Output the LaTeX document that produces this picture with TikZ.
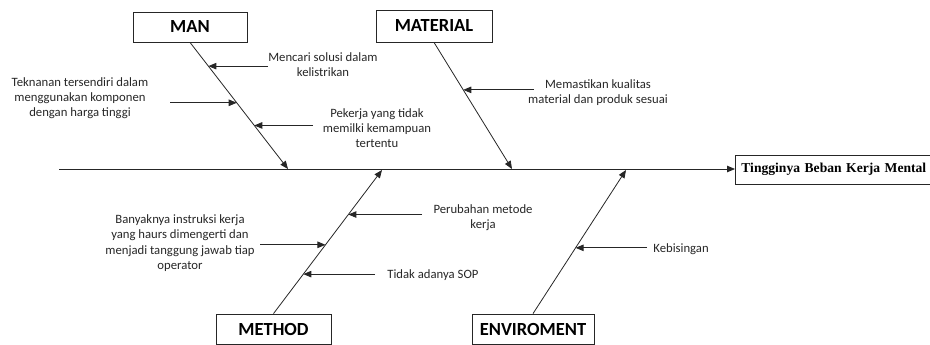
\documentclass[tikz,border=0pt]{standalone}
\usepackage{fontspec}
\setmainfont{Carlito}
\newfontfamily\effectfont{Liberation Serif}
\usetikzlibrary{arrows.meta,calc}
\begin{document}
\begin{tikzpicture}[x=1pt,y=-1pt,
  line width=0.8pt,
  arr/.style={draw=black!85, -{Triangle[length=8pt,width=6.5pt]}},
  bone/.style={draw=black!85, -{Triangle[length=8pt,width=6.5pt]}},
  catbox/.style={draw=black!85, line width=0.8pt, font=\fontsize{18.5}{20}\selectfont\bfseries, inner sep=0pt, text height=12pt, text depth=0pt},
  lbl/.style={font=\fontsize{12.7}{15.3}\selectfont, align=center, inner sep=0pt, text=black!85},
  effbox/.style={draw=black!85, line width=0.8pt, anchor=west, font=\effectfont\fontsize{13.6}{16}\selectfont\bfseries, inner sep=0pt, minimum height=29pt, text width=220pt, align=left}
]
\useasboundingbox (0,0) rectangle (930,345);

% effect
\node[effbox] (eff) at (735,169.5) {\hspace{6pt}Tingginya Beban Kerja Mental};
\coordinate (spl) at (59,169);
\draw[arr] (spl) -- (spl -| eff.west);

% category boxes
\node[catbox, minimum width=114pt, minimum height=30pt] (man) at (190,27) {MAN};
\node[catbox, minimum width=116pt, minimum height=32pt] (mat) at (434,26) {MATERIAL};
\node[catbox, minimum width=115pt, minimum height=30pt] (met) at (273.5,329) {METHOD};
\node[catbox, minimum width=122pt, minimum height=30pt] (env) at (533,329) {ENVIROMENT};

% bone ends on spine
\coordinate (manE) at (288,169);
\coordinate (matE) at (512,169);
\coordinate (metE) at (382,170);
\coordinate (envE) at (626,170);

\draw[bone] (man.south) -- (manE);
\draw[bone] (mat.south) -- (matE);
\draw[bone] (met.north) -- (metE);
\draw[bone] (env.north) -- (envE);

% points on bones
\path (man.south) -- (manE)
  coordinate[pos=0.1875] (b1)
  coordinate[pos=0.477] (b2)
  coordinate[pos=0.656] (b3);
\path (mat.south) -- (matE) coordinate[pos=0.375] (b4);
\path (met.north) -- (metE)
  coordinate[pos=0.69] (b5)
  coordinate[pos=0.479] (b6)
  coordinate[pos=0.275] (b7);
\path (env.north) -- (envE) coordinate[pos=0.458] (b8);

% labels
\node[lbl] (t1) at (323,64.5) {Mencari solusi dalam\\kelistrikan};
\node[lbl] (t2) at (80,98) {Teknanan tersendiri dalam\\menggunakan komponen\\dengan harga tinggi};
\node[lbl] (t3) at (377,128) {Pekerja yang tidak\\memilki kemampuan\\tertentu};
\node[lbl] (t4) at (598,92.5) {Memastikan kualitas\\material dan produk sesuai};
\node[lbl] (t5) at (483,218) {Perubahan metode\\kerja};
\node[lbl] (t6) at (180,243) {Banyaknya instruksi kerja\\yang haurs dimengerti dan\\menjadi tanggung jawab tiap\\operator};
\node[lbl, anchor=west] (t7) at (387,275) {Tidak adanya SOP};
\node[lbl, anchor=west] (t8) at (653,249) {Kebisingan};

% tails
\coordinate (s1) at (268,0);
\coordinate (s2) at (170,0);
\coordinate (s3) at (313,0);
\coordinate (s4) at (534,0);
\coordinate (s5) at (422,0);
\coordinate (s6) at (260,0);
\coordinate (s7) at (375,0);
\coordinate (s8) at (647,0);

\draw[arr] (b1 -| s1) -- (b1);
\draw[arr] (b2 -| s2) -- (b2);
\draw[arr] (b3 -| s3) -- (b3);
\draw[arr] (b4 -| s4) -- (b4);
\draw[arr] (b5 -| s5) -- (b5);
\draw[arr] (b6 -| s6) -- (b6);
\draw[arr] (b7 -| s7) -- (b7);
\draw[arr] (b8 -| s8) -- (b8);
\end{tikzpicture}
\end{document}
